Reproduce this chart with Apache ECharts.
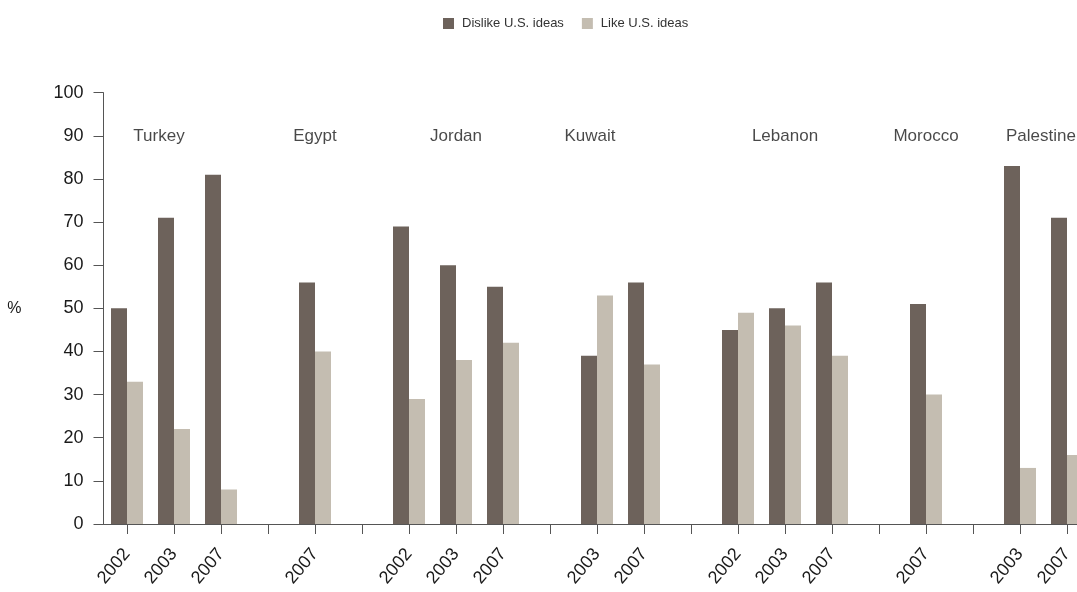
<!DOCTYPE html>
<html>
<head>
<meta charset="utf-8">
<script src="https://cdn.jsdelivr.net/npm/echarts@6/dist/echarts.min.js"></script>
<style>
html,body{margin:0;padding:0;background:#fff;overflow:hidden;width:1077px;height:592px;}
#chart{width:1091px;height:592px;}
</style>
</head>
<body>
<div id="chart"></div>
<script>
// Year slots along the x axis (empty strings are spacer slots between countries)
var yearLabels = ['2002','2003','2007','','2007','','2002','2003','2007','','2003','2007','','2002','2003','2007','','2007','','2003','2007'];
var dislike = [50,71,81,null,56,null,69,60,55,null,39,56,null,45,50,56,null,51,null,83,71];
var like    = [33,22,8,null,40,null,29,38,42,null,53,37,null,49,46,39,null,30,null,13,16];
var countries = ['Turkey','Egypt','Jordan','Kuwait','Lebanon','Morocco','Palestine'];
var countrySlot = [1,4,7,10,14,17,19];
var countryLabelY = 90;
var countryOffsetX = [-15,0,0,-7,0,0,21];
var yTicks = [0,10,20,30,40,50,60,70,80,90,100];

var FONT = '"Liberation Sans", Arial, sans-serif';
var darkC = '#6d625b';
var lightC = '#c4bdb1';
var textC = '#1a1a1a';

var countryData = countries.map(function(c,i){
  return {
    value:[countrySlot[i], countryLabelY],
    name:c,
    label:{offset:[countryOffsetX[i],0]}
  };
});

var chart = echarts.init(document.getElementById('chart'));
chart.setOption({
  animation:false,
  backgroundColor:'#fff',
  textStyle:{fontFamily:FONT},
  legend:{
    top:12,
    left:438,
    itemWidth:11,
    itemHeight:11,
    itemGap:18,
    icon:'rect',
    textStyle:{fontSize:13,color:'#333',fontFamily:FONT,padding:[0,0,0,3]},
    data:['Dislike U.S. ideas','Like U.S. ideas']
  },
  grid:{left:103.5,right:0.5,top:92.7,bottom:68,containLabel:false},
  xAxis:{
    type:'category',
    data:yearLabels,
    boundaryGap:true,
    axisLine:{show:true,lineStyle:{color:'#555',width:1}},
    axisTick:{show:true,alignWithLabel:true,length:10,interval:0,lineStyle:{color:'#555'}},
    axisLabel:{interval:0,rotate:50,margin:27,fontSize:18,color:textC,fontFamily:FONT},
    splitLine:{show:false}
  },
  yAxis:{
    type:'value',
    min:yTicks[0],
    max:yTicks[yTicks.length-1],
    interval:10,
    name:'%',
    nameLocation:'middle',
    nameRotate:0,
    nameGap:82,
    nameTextStyle:{fontSize:16,color:textC,fontFamily:FONT},
    axisLine:{show:true,lineStyle:{color:'#555',width:1}},
    axisTick:{show:true,length:10,lineStyle:{color:'#555'}},
    axisLabel:{fontSize:18,color:textC,margin:20,fontFamily:FONT},
    splitLine:{show:false}
  },
  series:[
    {
      name:'Dislike U.S. ideas',
      type:'bar',
      data:dislike,
      barWidth:16,
      barGap:'0%',
      itemStyle:{color:darkC}
    },
    {
      name:'Like U.S. ideas',
      type:'bar',
      data:like,
      barWidth:16,
      barGap:'0%',
      itemStyle:{color:lightC}
    },
    {
      name:'countries',
      type:'scatter',
      data:countryData,
      symbolSize:0,
      silent:true,
      label:{
        show:true,
        position:'inside',
        formatter:function(p){return p.name;},
        fontSize:17,
        color:textC,
        fontFamily:FONT
      }
    }
  ]
});
</script>
</body>
</html>
